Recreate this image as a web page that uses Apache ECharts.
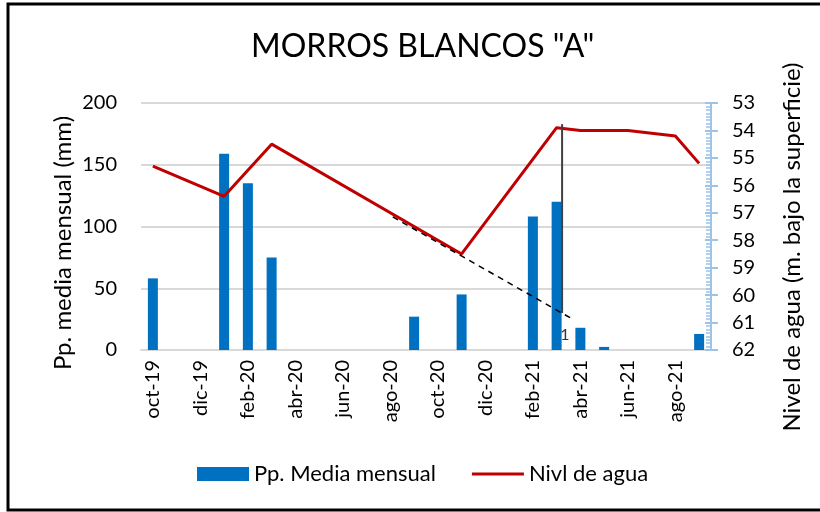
<!DOCTYPE html>
<html>
<head>
<meta charset="utf-8">
<script src="https://cdn.jsdelivr.net/npm/echarts@6/dist/echarts.min.js"></script>
<style>
  html, body { margin: 0; padding: 0; background: #fff; }
  #main { width: 820px; height: 512px; }
</style>
</head>
<body>
<div id="main"></div>
<script>
    // meses oct-19 .. sep-21
    var months = ['oct-19','nov-19','dic-19','ene-20','feb-20','mar-20','abr-20','may-20','jun-20','jul-20','ago-20','sep-20',
                  'oct-20','nov-20','dic-20','ene-21','feb-21','mar-21','abr-21','may-21','jun-21','jul-21','ago-21','sep-21'];
    // Pp. media mensual (mm)
    var ppData = [58, null, null, 159, 135, 75, null, null, null, null, null, 27,
                  null, 45, null, null, 108, 120, 18, 2.5, null, null, null, 13];
    // nivel de agua (m bajo la superficie)
    var nivelData = [55.3, null, null, 56.4, null, 54.5, null, null, null, null, null, null,
                     null, 58.5, null, null, null, 53.9, 54.0, null, 54.0, null, 54.2, 55.2];
    // linea de tendencia y marca vertical (x = indice de mes)
    var trendData = [[10.1, 57.15], [17.6, 60.84]];
    var markData = [[17.23, 53.77], [17.23, 60.65]];
    var markLabel = [[17.35, 61.45]];

    var chart = echarts.init(document.getElementById('main'));
    var font = 'Lato, "Open Sans", sans-serif';

    var option = {
        animation: false,
        textStyle: { fontFamily: font },
        title: {
            text: 'MORROS BLANCOS "A"',
            left: 246,
            top: 26,
            textStyle: { fontFamily: font, fontSize: 32, fontWeight: 'normal', color: '#000' }
        },
        legend: {
            data: [
                { name: 'Pp. Media mensual', icon: 'rect' },
                { name: 'Nivl de agua', icon: 'path://M0,0L52,0ZM0,5.5L52,5.5L52,8.5L0,8.5ZM0,14L52,14Z' }
            ],
            left: 192,
            top: 458,
            itemWidth: 52,
            itemHeight: 14,
            itemGap: 36,
            textStyle: { fontFamily: font, fontSize: 22, color: '#000' }
        },
        graphic: [
            {
                type: 'rect',
                shape: { x: 8, y: 4, width: 830, height: 506 },
                style: { fill: 'none', stroke: '#000', lineWidth: 3 },
                silent: true
            },
            {
                type: 'text',
                x: 63, y: 243,
                rotation: Math.PI / 2,
                style: { text: 'Pp. media mensual (mm)', fontFamily: font, fontSize: 24,
                         fill: '#000', align: 'center', verticalAlign: 'middle' }
            },
            {
                type: 'text',
                x: 792, y: 247,
                rotation: Math.PI / 2,
                style: { text: 'Nivel de agua (m. bajo la superficie)', fontFamily: font, fontSize: 24,
                         fill: '#000', align: 'center', verticalAlign: 'middle' }
            }
        ],
        grid: { left: 141, right: 109, top: 103, bottom: 162 },
        xAxis: [
            {
                type: 'category',
                data: months,
                boundaryGap: true,
                axisLine: { show: true, lineStyle: { color: '#d9d9d9', width: 2 } },
                axisTick: { show: false },
                axisLabel: { interval: 1, rotate: 90, fontSize: 20, color: '#000', margin: 10, fontFamily: font }
            },
            {
                type: 'value',
                min: -0.5,
                max: 23.5,
                show: false
            }
        ],
        yAxis: [
            {
                type: 'value',
                min: 0,
                max: 200,
                interval: 50,
                axisLine: { show: false },
                axisTick: { show: false },
                axisLabel: { fontSize: 20, color: '#000', margin: 24, fontFamily: font },
                splitLine: { lineStyle: { color: '#d9d9d9', width: 2 } }
            },
            {
                type: 'value',
                position: 'right',
                inverse: true,
                min: 53,
                max: 62,
                interval: 1,
                axisLine: { show: true, lineStyle: { color: '#9dc3e6', width: 2 } },
                axisTick: { show: true, length: 7, lineStyle: { color: '#9dc3e6', width: 2 } },
                axisLabel: { fontSize: 20, color: '#000', margin: 21, fontFamily: font },
                splitLine: { show: false }
            },
            {
                // ticks interiores del eje derecho
                type: 'value',
                position: 'right',
                inverse: true,
                min: 53,
                max: 62,
                interval: 1,
                axisLine: { show: false },
                axisTick: { show: true, inside: true, length: 6, lineStyle: { color: '#9dc3e6', width: 2 } },
                minorTick: { show: true, splitNumber: 8, length: 5, lineStyle: { color: '#9dc3e6', width: 1.5 } },
                axisLabel: { show: false },
                splitLine: { show: false }
            }
        ],
        series: [
            {
                name: 'Pp. Media mensual',
                type: 'bar',
                data: ppData,
                barWidth: 10,
                itemStyle: { color: '#0070c0' }
            },
            {
                name: 'Nivl de agua',
                type: 'line',
                yAxisIndex: 1,
                data: nivelData,
                connectNulls: true,
                symbol: 'none',
                lineStyle: { color: '#c00000', width: 3 },
                itemStyle: { color: '#c00000' }
            },
            {
                name: 'tendencia',
                type: 'line',
                xAxisIndex: 1,
                yAxisIndex: 1,
                data: trendData,
                symbol: 'none',
                lineStyle: { color: '#000', width: 1.5, type: [6, 5] },
                z: 3
            },
            {
                name: 'marca',
                type: 'line',
                xAxisIndex: 1,
                yAxisIndex: 1,
                data: markData,
                symbol: 'none',
                lineStyle: { color: '#404040', width: 2 },
                z: 4
            },
            {
                name: 'etiqueta',
                type: 'scatter',
                xAxisIndex: 1,
                yAxisIndex: 1,
                data: markLabel,
                symbolSize: 0,
                label: { show: true, formatter: '1', fontSize: 16, color: '#000', fontFamily: font },
                z: 5
            }
        ]
    };

    chart.setOption(option);
</script>
</body>
</html>
